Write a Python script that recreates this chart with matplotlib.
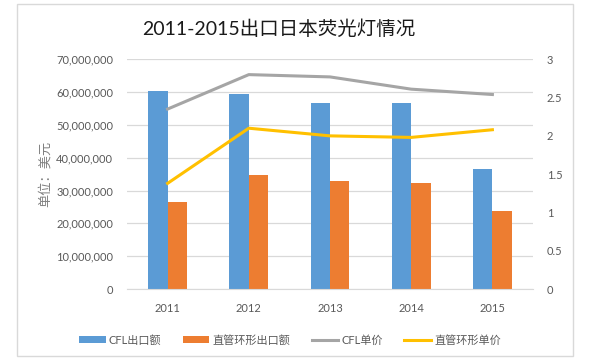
import matplotlib
matplotlib.use("Agg")
import matplotlib.pyplot as plt
from matplotlib.ticker import FuncFormatter
from matplotlib.patches import Rectangle
import numpy as np

plt.rcParams['font.family'] = ['Lato', 'Noto Sans CJK SC', 'DejaVu Sans']

years = ['2011', '2012', '2013', '2014', '2015']
cfl_export = [60.4e6, 59.4e6, 56.8e6, 56.6e6, 36.5e6]
tube_export = [26.6e6, 34.7e6, 32.8e6, 32.2e6, 23.9e6]
cfl_price = [2.35, 2.80, 2.77, 2.61, 2.54]
tube_price = [1.38, 2.10, 2.00, 1.98, 2.08]

labels = ['CFL出口额', '直管环形出口额', 'CFL单价', '直管环形单价']
colors = ['#5B9BD5', '#ED7D31', '#A5A5A5', '#FFC000']
text_color = '#595959'

fig = plt.figure(figsize=(6, 3.6), dpi=100)
fig.patches.append(Rectangle((17 / 600, 4 / 360), 556 / 600, 352 / 360, transform=fig.transFigure,
                             fill=False, edgecolor='#D9D9D9', linewidth=1))

ax = fig.add_axes([127 / 600, 71 / 360, 406 / 600, 229.7 / 360])
x = np.arange(len(years))
w = 0.24
b1 = ax.bar(x - w / 2, cfl_export, w, color=colors[0], label=labels[0], zorder=2)
b2 = ax.bar(x + w / 2, tube_export, w, color=colors[1], label=labels[1], zorder=2)
ax.set_ylim(0, 70e6)
ax.set_yticks(np.arange(0, 70e6 + 1, 10e6))
ax.yaxis.set_major_formatter(FuncFormatter(lambda v, p: f"{int(v):,}"))
ax.set_xlim(-0.5, 4.5)
ax.set_xticks(x)
ax.set_xticklabels(years)
ax.grid(axis='y', color='#D9D9D9', linewidth=0.9, zorder=0)
for s in ax.spines.values():
    s.set_visible(False)
ax.spines['bottom'].set_visible(True)
ax.spines['bottom'].set_color('#D9D9D9')
ax.tick_params(length=0, labelsize=8, colors=text_color, pad=10)
ax.set_ylabel('单位：美元', fontsize=9.5, color='#7F7F7F', labelpad=4)

ax2 = ax.twinx()
l1, = ax2.plot(x, cfl_price, color=colors[2], linewidth=2.2, label=labels[2], zorder=3)
l2, = ax2.plot(x, tube_price, color=colors[3], linewidth=2.2, label=labels[3], zorder=3)
ax2.set_ylim(0, 3)
ax2.set_yticks([0, 0.5, 1, 1.5, 2, 2.5, 3])
ax2.set_yticklabels(['0', '0.5', '1', '1.5', '2', '2.5', '3'])
for s in ax2.spines.values():
    s.set_visible(False)
ax2.tick_params(length=0, labelsize=8, colors=text_color, pad=10)

fig.text(279 / 600, 1 - 29 / 360, '2011-2015出口日本荧光灯情况', ha='center', va='center',
         fontsize=14, color='#1a1a1a')

fig.legend([b1, b2, l1, l2], labels, loc='center', bbox_to_anchor=(290 / 600, 1 - 340 / 360),
           ncol=4, frameon=False, fontsize=8, labelcolor=text_color,
           handlelength=2.4, handleheight=0.5, columnspacing=1.9, handletextpad=0.3)

fig.savefig('out.png', dpi=100)
